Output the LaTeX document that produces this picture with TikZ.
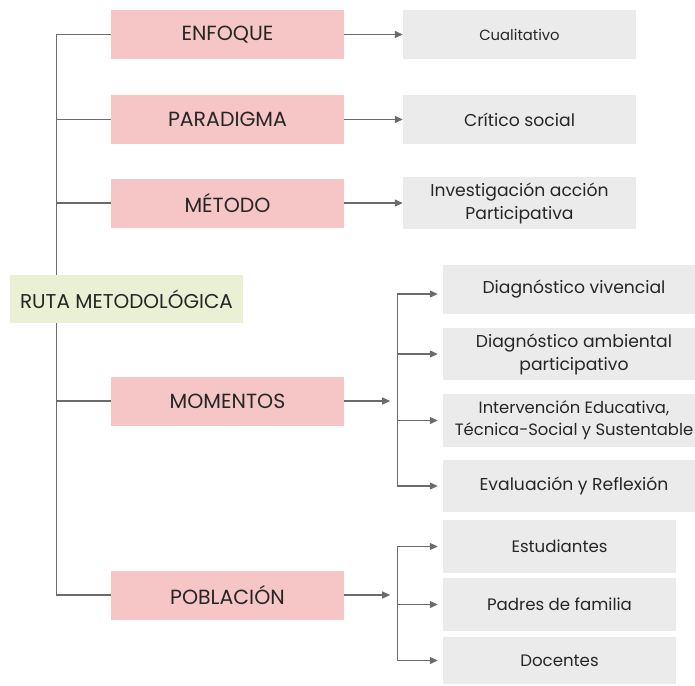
\documentclass[tikz,border=0pt]{standalone}
\usepackage{fontspec}
\setmainfont{Poppins}
\usetikzlibrary{arrows.meta,calc}
\definecolor{pinkc}{HTML}{F6C5C6}
\definecolor{grayc}{HTML}{EBEBEB}
\definecolor{greenc}{HTML}{EAF0D3}
\definecolor{linec}{HTML}{6B6B6B}
\begin{document}
\begin{tikzpicture}[x=1pt,y=-1pt,
  pinkbox/.style={fill=pinkc, minimum width=233pt, minimum height=49pt, inner sep=0pt, text=black!85, font=\fontsize{20.5}{24}\selectfont},
  rootbox/.style={fill=greenc, minimum width=233pt, minimum height=48pt, inner sep=0pt, text=black!85, font=\fontsize{20}{24}\selectfont},
  graybox/.style={fill=grayc, minimum width=233pt, inner sep=0pt, align=center, text=black!85, font=\fontsize{17.2}{23}\selectfont},
  widebox/.style={graybox, minimum width=262pt},
  popbox/.style={graybox, font=\fontsize{16.6}{22}\selectfont},
  conn/.style={draw=linec, line width=1.2pt},
  arr/.style={conn, -{Triangle[length=8pt,width=7pt]}}]
\useasboundingbox (0,0) rectangle (695,685);

% first level
\node[pinkbox] (enf) at (227.5,34.5) {ENFOQUE};
\node[pinkbox] (par) at (227.5,119.5) {PARADIGMA};
\node[pinkbox] (met) at (227.5,203) {MÉTODO};
\node[pinkbox] (mom) at (227.5,401) {MOMENTOS};
\node[pinkbox] (pob) at (227.5,595) {POBLACIÓN};

% right column
\node[graybox, minimum height=49pt, font=\fontsize{14.8}{18}\selectfont] (cual) at (519.5,34.5) {Cualitativo};
\node[graybox, minimum height=49pt] (crit) at (519.5,119.5) {Crítico social};
\node[graybox, minimum height=52pt] (inv) at (519.5,203) {Investigación acción\\Participativa};

\node[widebox, minimum height=49pt] (dv) at (574,289.5) {Diagnóstico vivencial};
\node[widebox, minimum height=52pt] (da) at (574,354) {Diagnóstico ambiental\\participativo};
\node[widebox, minimum height=53pt, font=\fontsize{16.4}{22}\selectfont] (ie) at (574,420.5) {Intervención Educativa,\\Técnica-Social y Sustentable};
\node[widebox, minimum height=52pt] (ev) at (574,486) {Evaluación y Reflexión};

\node[popbox, minimum height=53pt] (est) at (559.5,546.5) {Estudiantes};
\node[popbox, minimum height=53pt] (pad) at (559.5,604.5) {Padres de familia};
\node[popbox, minimum height=47pt] (doc) at (559.5,660.5) {Docentes};

% trunk
\draw[conn] (enf.west) -- ++(-54,0) |- (pob.west);
\draw[conn] (par.west) -- ++(-54,0);
\draw[conn] (met.west) -- ++(-54,0);
\draw[conn] (mom.west) -- ++(-54,0);

% root
\node[rootbox] (root) at (126.5,299) {RUTA METODOLÓGICA};

% first row arrows
\draw[arr] (enf.east) -- (cual.west);
\draw[arr] (par.east) -- (crit.west);
\draw[arr] (met.east) -- (inv.west);

% momentos branch
\coordinate (dvin) at ($(dv.west)+(0,4.5)$);
\coordinate (mbus) at ($(mom.east)+(53,0)$);
\draw[arr] (mom.east) -- ++(46,0);
\draw[conn] (mbus |- dvin) -- (mbus |- ev.west);
\draw[arr, shorten >=5pt] (mbus |- dvin) -- (dvin);
\draw[arr, shorten >=5pt] (mbus |- da.west) -- (da.west);
\draw[arr, shorten >=5pt] (mbus |- ie.west) -- (ie.west);
\draw[arr, shorten >=5pt] (mbus |- ev.west) -- (ev.west);

% poblacion branch
\coordinate (pbus) at ($(pob.east)+(53,0)$);
\draw[arr] (pob.east) -- ++(46,0);
\draw[conn] (pbus |- est.west) -- (pbus |- doc.west);
\draw[arr, shorten >=5pt] (pbus |- est.west) -- (est.west);
\draw[arr, shorten >=5pt] (pbus |- pad.west) -- (pad.west);
\draw[arr, shorten >=5pt] (pbus |- doc.west) -- (doc.west);
\end{tikzpicture}
\end{document}
